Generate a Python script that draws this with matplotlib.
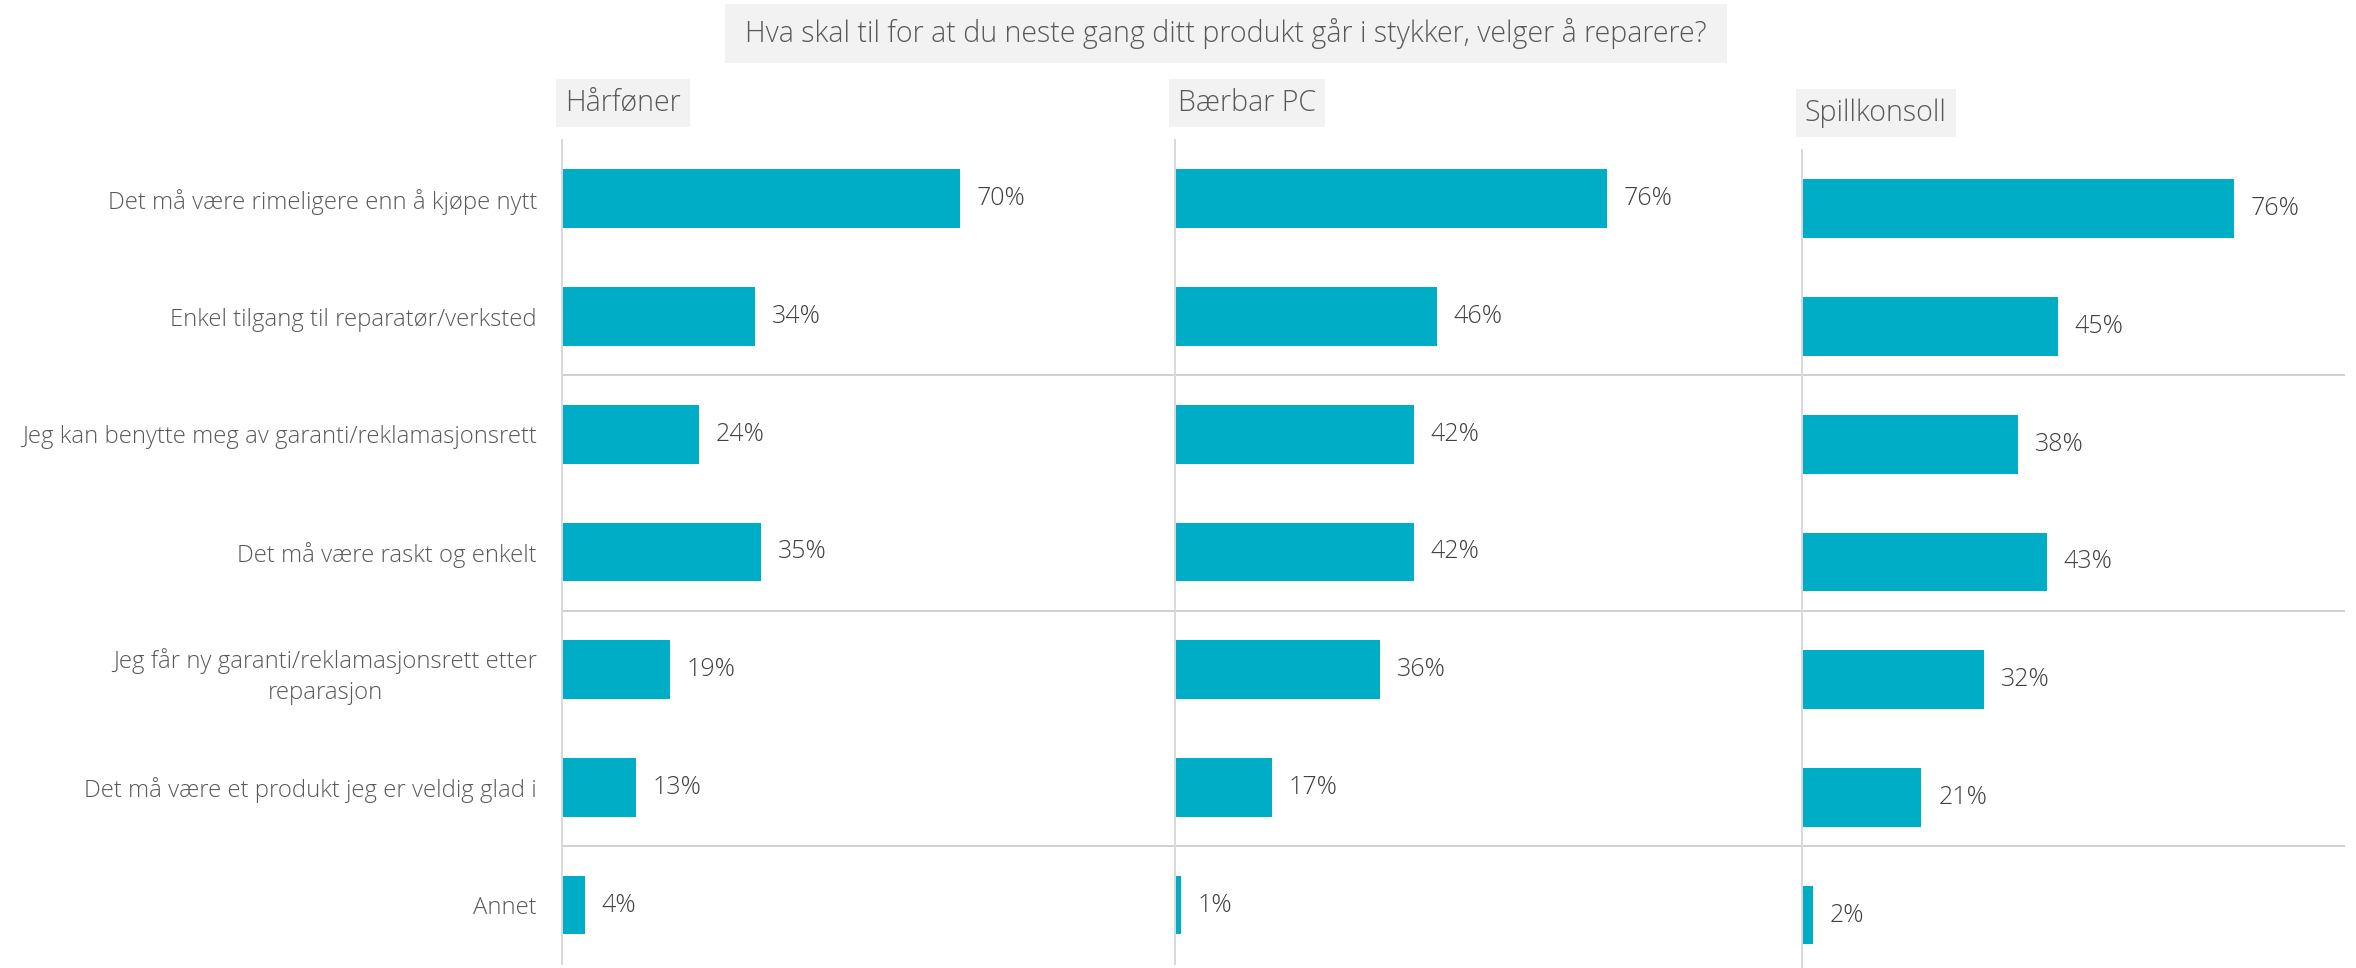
"""
Hva skal til for at du neste gang ditt produkt går i stykker, velger å reparere?
Three small-multiple horizontal bar panels (Hårføner / Bærbar PC / Spillkonsoll).
"""

import numpy as np
import matplotlib
matplotlib.use('Agg')
import matplotlib.pyplot as plt
from matplotlib.patches import Rectangle

plt.rcParams['font.family'] = ['Open Sans', 'DejaVu Sans']

# ─── Data ───
title = "Hva skal til for at du neste gang ditt produkt går i stykker, velger å reparere?"
categories = [
    "Det må være rimeligere enn å kjøpe nytt",
    "Enkel tilgang til reparatør/verksted",
    "Jeg kan benytte meg av garanti/reklamasjonsrett",
    "Det må være raskt og enkelt",
    "Jeg får ny garanti/reklamasjonsrett etter\nreparasjon",
    "Det må være et produkt jeg er veldig glad i",
    "Annet",
]
panel_names = ["Hårføner", "Bærbar PC", "Spillkonsoll"]
harfoner = [70, 34, 24, 35, 19, 13, 4]
baerbar_pc = [76, 46, 42, 42, 36, 17, 1]
spillkonsoll = [76, 45, 38, 43, 32, 21, 2]
group_size = 2  # grey separator after every second category

# ─── Style ───
BAR = "#00ADC6"
TXT = "#595959"
VAL = "#404040"
BOX = "#F2F2F2"
AXLINE = "#D9D9D9"
SEP = "#C8C8C8"

W, H = 2356, 968
fig = plt.figure(figsize=(W / 100, H / 100), dpi=100)
fig.patch.set_facecolor("white")


def rect(left, top, width, height):
    return [left / W, 1 - (top + height) / H, width / W, height / H]


n = len(categories)
xmax = 95
px_per_pct = 5.69
panel_w = xmax * px_per_pct
row_h = 117.7
panel_h = n * row_h
lefts = [562, 1175, 1802]
tops = [140, 140, 150]

# separators across all panels
ax_bg = fig.add_axes(rect(lefts[0], tops[0], 2345 - lefts[0], panel_h))
ax_bg.set_ylim(n - 0.5, -0.5)
ax_bg.set_xlim(0, 1)
ax_bg.axis("off")
for b in np.arange(group_size, n, group_size) - 0.5:
    ax_bg.axhline(b, color=SEP, lw=1.2)

y = np.arange(n)
series = [harfoner, baerbar_pc, spillkonsoll]
header_texts = []
for i, (name, vals) in enumerate(zip(panel_names, series)):
    ax = fig.add_axes(rect(lefts[i], tops[i], panel_w, panel_h))
    ax.patch.set_alpha(0)
    bars = ax.barh(y, vals, height=0.5, color=BAR)
    ax.set_xlim(0, xmax)
    ax.set_ylim(n - 0.5, -0.5)
    for s in ["top", "right", "bottom"]:
        ax.spines[s].set_visible(False)
    ax.spines["left"].set_color(AXLINE)
    ax.spines["left"].set_linewidth(1.4)
    ax.set_xticks([])
    ax.set_yticks(y)
    ax.tick_params(axis="y", length=0, pad=18)
    if i == 0:
        ax.set_yticklabels(categories, fontsize=17.2, color=TXT, fontweight="light")
        for lab in ax.get_yticklabels():
            lab.set_multialignment("center")
            lab.set_linespacing(1.4)
    else:
        ax.set_yticklabels([])
    for bar, v in zip(bars, vals):
        ax.annotate(f"{v}%", xy=(bar.get_width(), bar.get_y() + bar.get_height() / 2),
                    xytext=(12, 0), textcoords="offset points",
                    ha="left", va="center", fontsize=18, color=VAL, fontweight="light")
    t = fig.text((lefts[i] + 3) / W, 1 - (tops[i] - 37) / H, name,
                 ha="left", va="center", fontsize=20.6, color=TXT, fontweight="light")
    header_texts.append(t)

title_text = fig.text(1226 / W, 1 - 33.5 / H, title, ha="center", va="center",
                      fontsize=20.6, color=TXT, fontweight="light")

# grey boxes behind title and panel headers
fig.canvas.draw()
renderer = fig.canvas.get_renderer()
inv = fig.transFigure.inverted()


def add_box(txt, padx, box_h):
    bb = txt.get_window_extent(renderer)
    cy = (bb.y0 + bb.y1) / 2
    (x0, y0) = inv.transform((bb.x0 - padx, cy - box_h / 2))
    (x1, y1) = inv.transform((bb.x1 + padx, cy + box_h / 2))
    fig.patches.append(Rectangle((x0, y0), x1 - x0, y1 - y0, transform=fig.transFigure,
                                 facecolor=BOX, edgecolor="none", zorder=-1, figure=fig))


add_box(title_text, 20, 59)
for t in header_texts:
    add_box(t, 9, 48)

fig.savefig("out.png", dpi=100, facecolor="white")
